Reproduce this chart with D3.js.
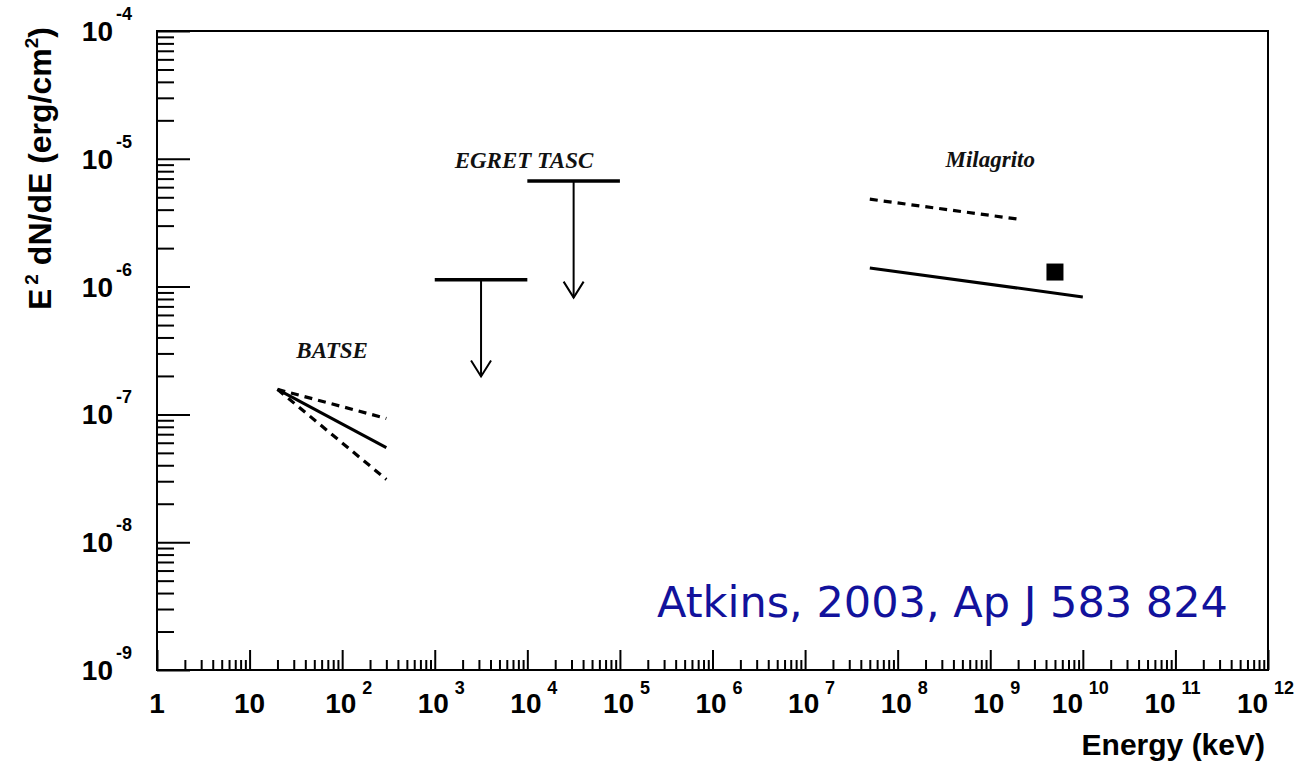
<!DOCTYPE html>
<html>
<head>
<meta charset="utf-8">
<script src="https://cdn.jsdelivr.net/npm/d3@7"></script>
<style>
  html, body { margin: 0; padding: 0; background: #ffffff; }
  svg { display: block; }
</style>
</head>
<body>
<svg id="chart" width="1296" height="765"></svg>
<script>
// ---------------- data ----------------
const xDomain = [1, 1e12];
const yDomain = [1e-9, 1e-4];
const xTickExponents = [0,1,2,3,4,5,6,7,8,9,10,11,12];
const yTickExponents = [-9,-8,-7,-6,-5,-4];

// BATSE power-law fits (keV, erg/cm^2)
const batseEnergy = [20, 300];
const batseBest   = [1.57e-7, 5.5e-8];
const batseUpper  = [1.57e-7, 9.3e-8];
const batseLower  = [1.57e-7, 3.1e-8];

// EGRET TASC upper limits
const egretLow      = [1e3, 1e4];
const egretHigh     = [1e4, 1e5];
const egretLimit    = [1.13e-6, 6.7e-6];
const egretArrowEnd = [1.98e-7, 8.2e-7];

// Milagrito
const milagritoEnergy     = [5e7, 1e10];
const milagritoFlux       = [1.40e-6, 8.3e-7];
const milagritoDashEnergy = [5e7, 2e9];
const milagritoDashFlux   = [4.83e-6, 3.37e-6];
const milagritoPointE     = [5e9];
const milagritoPointF     = [1.30e-6];

const seriesLabels = [
  {text: "BATSE",      x: 78,    y: 2.76e-7},
  {text: "EGRET TASC", x: 9.2e3, y: 8.5e-6},
  {text: "Milagrito",  x: 1.0e9, y: 8.6e-6}
];
const creditText = "Atkins, 2003, Ap J 583 824";
const xTitle = "Energy (keV)";

// ---------------- drawing ----------------
const svg = d3.select("#chart");
const L = 157, R = 1268, T = 31, B = 670;
const x = d3.scaleLog().domain(xDomain).range([L, R]);
const y = d3.scaleLog().domain(yDomain).range([B, T]);

const sans = "'Liberation Sans', Arial, Helvetica, sans-serif";
const serif = "'Liberation Serif', 'Times New Roman', serif";

// minor tick values
const xMinor = [], yMinor = [];
xTickExponents.slice(0, -1).forEach(e => { for (let k = 2; k <= 9; k++) xMinor.push(k * Math.pow(10, e)); });
yTickExponents.slice(0, -1).forEach(e => { for (let k = 2; k <= 9; k++) yMinor.push(k * Math.pow(10, e)); });
const xMajor = xTickExponents.map(e => Math.pow(10, e));
const yMajor = yTickExponents.map(e => Math.pow(10, e));

function styleAxis(g) {
  g.select(".domain").remove();
  g.selectAll(".tick line").attr("stroke", "#000").attr("stroke-width", 2);
  g.selectAll(".tick text").remove();
}

// bottom axis ticks (pointing inward / upward)
svg.append("g").attr("transform", `translate(0,${B})`)
  .call(d3.axisBottom(x).tickValues(xMajor).tickSize(-20).tickFormat(""))
  .call(styleAxis);
svg.append("g").attr("transform", `translate(0,${B})`)
  .call(d3.axisBottom(x).tickValues(xMinor).tickSize(-10).tickFormat(""))
  .call(styleAxis);
// left axis ticks (pointing inward / right)
svg.append("g").attr("transform", `translate(${L},0)`)
  .call(d3.axisLeft(y).tickValues(yMajor).tickSize(-33).tickFormat(""))
  .call(styleAxis);
svg.append("g").attr("transform", `translate(${L},0)`)
  .call(d3.axisLeft(y).tickValues(yMinor).tickSize(-17).tickFormat(""))
  .call(styleAxis);

// frame
svg.append("rect").attr("x", L).attr("y", T).attr("width", R - L).attr("height", B - T)
  .attr("fill", "none").attr("stroke", "#000").attr("stroke-width", 2);

// x tick labels
const xl = svg.append("g").attr("font-family", sans).attr("font-weight", "bold").attr("fill", "#000");
xTickExponents.forEach(e => {
  const px = x(Math.pow(10, e));
  if (e === 0 || e === 1) {
    xl.append("text").attr("x", px).attr("y", 713).attr("text-anchor", "middle")
      .attr("font-size", 28).text(e === 0 ? "1" : "10");
  } else {
    const left = px - (String(e).length > 1 ? 31 : 17);
    xl.append("text").attr("x", left).attr("y", 713).attr("font-size", 28).text("10");
    xl.append("text").attr("x", left + 37).attr("y", 694).attr("font-size", 18).text(String(e));
  }
});

// y tick labels
const yl = svg.append("g").attr("font-family", sans).attr("font-weight", "bold").attr("fill", "#000");
yTickExponents.forEach(e => {
  const py = y(Math.pow(10, e));
  yl.append("text").attr("x", 113).attr("y", py + 10).attr("text-anchor", "end")
    .attr("font-size", 28).text("10");
  yl.append("text").attr("x", 116).attr("y", py - 11).attr("font-size", 18).text(String(e));
});

// axis titles
svg.append("text").attr("x", 1265).attr("y", 755).attr("text-anchor", "end")
  .attr("font-family", sans).attr("font-weight", "bold").attr("font-size", 30).text(xTitle);

const yt = svg.append("text").attr("transform", "translate(51,27) rotate(-90)")
  .attr("text-anchor", "end").attr("font-family", sans).attr("font-weight", "bold").attr("font-size", 32);
yt.append("tspan").text("E");
yt.append("tspan").attr("dx", 4).attr("dy", -13).attr("font-size", 19).text("2");
yt.append("tspan").attr("dy", 13).text(" dN/dE (erg/cm");
yt.append("tspan").attr("dy", -13).attr("font-size", 19).text("2");
yt.append("tspan").attr("dy", 13).text(")");

// ---------------- data marks ----------------
const plot = svg.append("g");
const line = d3.line().x(d => x(d[0])).y(d => y(d[1]));

// BATSE
plot.append("path").datum(d3.zip(batseEnergy, batseBest)).attr("d", line)
  .attr("fill", "none").attr("stroke", "#000").attr("stroke-width", 3);
[batseUpper, batseLower].forEach(s => {
  plot.append("path").datum(d3.zip(batseEnergy, s)).attr("d", line)
    .attr("fill", "none").attr("stroke", "#000").attr("stroke-width", 3.2)
    .attr("stroke-dasharray", "8,6");
});

// EGRET upper limits
egretLow.forEach((lo, i) => {
  const hi = egretHigh[i];
  const mid = Math.sqrt(lo * hi);
  plot.append("line").attr("x1", x(lo)).attr("x2", x(hi))
    .attr("y1", y(egretLimit[i])).attr("y2", y(egretLimit[i]))
    .attr("stroke", "#000").attr("stroke-width", 3.5);
  plot.append("line").attr("x1", x(mid)).attr("x2", x(mid))
    .attr("y1", y(egretLimit[i])).attr("y2", y(egretArrowEnd[i]))
    .attr("stroke", "#000").attr("stroke-width", 2);
  const tx = x(mid), ty = y(egretArrowEnd[i]);
  plot.append("path").attr("d", `M${tx - 10},${ty - 16}L${tx},${ty}L${tx + 10},${ty - 16}`)
    .attr("fill", "none").attr("stroke", "#000").attr("stroke-width", 2);
});

// Milagrito
plot.append("path").datum(d3.zip(milagritoDashEnergy, milagritoDashFlux)).attr("d", line)
  .attr("fill", "none").attr("stroke", "#000").attr("stroke-width", 3.2)
  .attr("stroke-dasharray", "8,6");
plot.append("path").datum(d3.zip(milagritoEnergy, milagritoFlux)).attr("d", line)
  .attr("fill", "none").attr("stroke", "#000").attr("stroke-width", 3);
plot.selectAll("rect.pt").data(d3.zip(milagritoPointE, milagritoPointF)).enter()
  .append("rect").attr("class", "pt")
  .attr("x", d => x(d[0]) - 8.5).attr("y", d => y(d[1]) - 8.5)
  .attr("width", 17).attr("height", 17).attr("fill", "#000");

// series labels
svg.append("g").selectAll("text").data(seriesLabels).enter().append("text")
  .attr("x", d => x(d.x)).attr("y", d => y(d.y)).attr("text-anchor", "middle")
  .attr("font-family", serif).attr("font-weight", "bold").attr("font-style", "italic")
  .attr("font-size", 23).attr("fill", "#111").text(d => d.text);

// credit
svg.append("text").attr("x", 657).attr("y", 617)
  .attr("font-family", "'DejaVu Sans', Verdana, sans-serif").attr("font-size", 43)
  .attr("fill", "#12129c").attr("textLength", 571).attr("lengthAdjust", "spacingAndGlyphs")
  .text(creditText);
</script>
</body>
</html>
